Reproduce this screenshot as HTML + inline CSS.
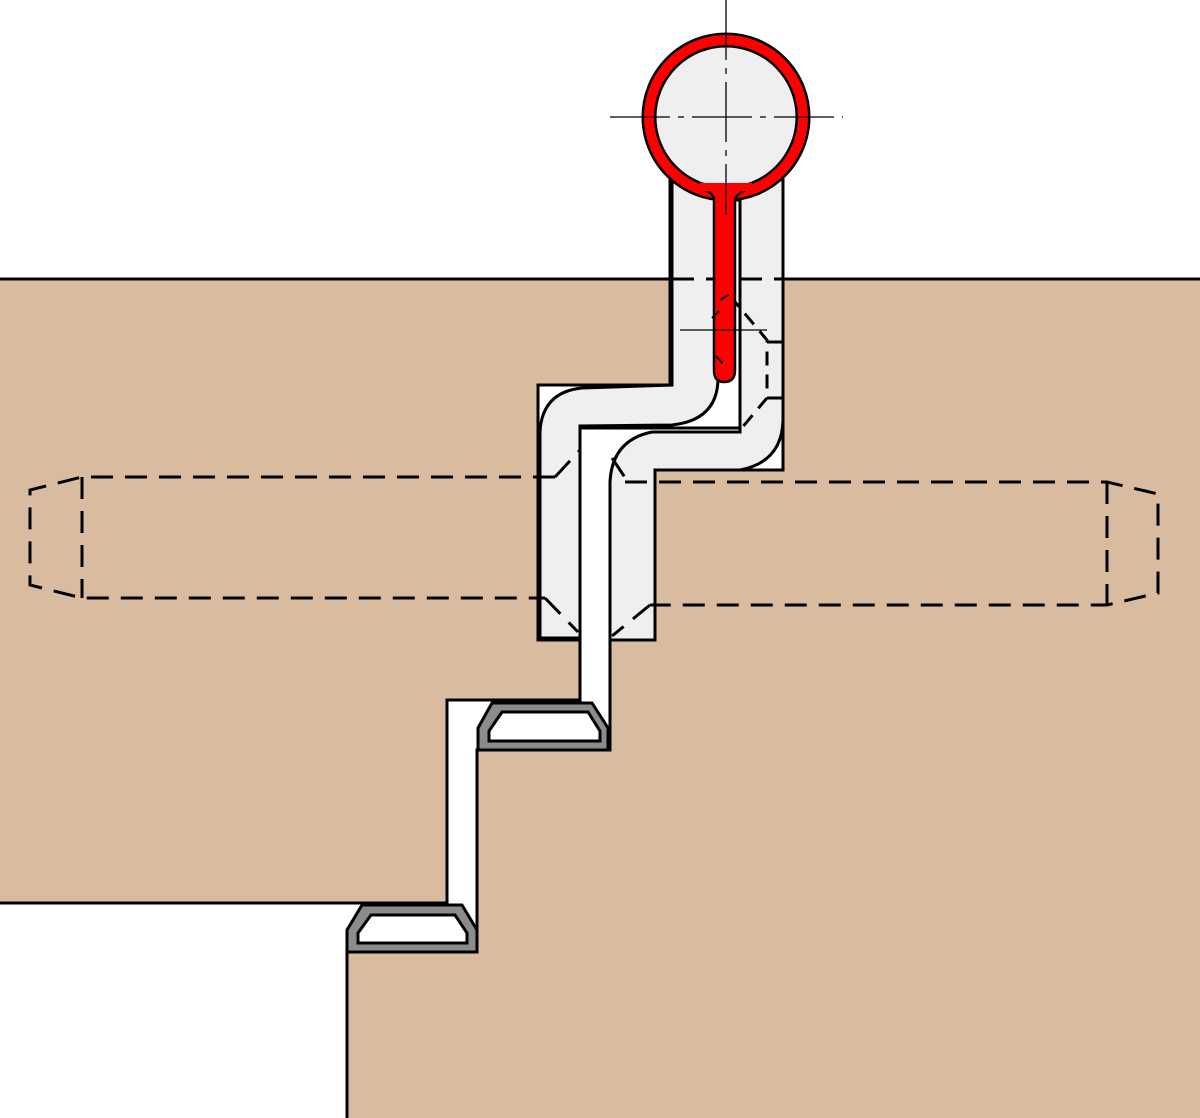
<!DOCTYPE html>
<html><head><style>html,body{margin:0;padding:0;background:#fff}svg{display:block}</style></head>
<body>
<svg width="1200" height="1118" viewBox="0 0 1200 1118" xmlns="http://www.w3.org/2000/svg">
<g stroke="#000" stroke-width="3" stroke-linejoin="miter" fill="#d9bc9f">
<polygon points="-5,279 670,279 670,385 538,385 538,640 580,640 580,700 447,700 447,903 -5,903"/>
<polygon points="783,279 1205,279 1205,1125 347,1125 347,952 477,952 477,750 610,750 610,640 655,640 655,470 783,470"/>
</g>
<g stroke="#000" stroke-width="3" fill="#efefef">
<path d="M670,175 L670,385 L538,385 L538,640 L580,640 L580,428 L740,428 L740,200 L720,200 L718,175 Z" fill="#fff"/>
<path d="M672,175 L672,385 L582,388 Q542,392 540,432 L540,638 L580,638 L580,426 L672,425 Q718,420 718,378 L718,190"/>
<path d="M740,195 L740,432 L652,432 Q612,440 610,482 L610,640 L655,640 L655,470 L740,470 Q782,462 783,420 L783,175"/>
</g>
<line x1="0" y1="279" x2="670" y2="279" stroke="#000" stroke-width="3"/>
<line x1="783" y1="279" x2="1200" y2="279" stroke="#000" stroke-width="3"/>
<g stroke="#000" stroke-width="3" fill="none" stroke-dasharray="22,12">
<line x1="672" y1="279" x2="783" y2="279"/>
<path d="M555,477 L82,477 L30,490 L30,585 L82,598 L545,598"/>
<line x1="82" y1="477" x2="82" y2="598"/>
<path d="M555,477 L580,450"/>
<path d="M545,598 L578,632"/>
<path d="M625,482 L1107,482 L1158,494 L1158,593 L1107,605 L650,605"/>
<line x1="1107" y1="482" x2="1107" y2="605"/>
<path d="M612,458 L628,482"/>
<path d="M650,605 L612,636"/>
<path d="M730,296 L767,340 L767,398 L740,430" stroke-dasharray="14,9"/>
<path d="M767,342 L783,342 M767,398 L783,398" stroke-dasharray="none"/>
</g>
<g stroke="#000" stroke-width="3">
<polygon points="478,750 478,728 492,703 592,703 608,728 608,750" fill="#8c8c8c"/>
<polygon points="489,741 489,731 502,712 588,712 600,731 600,741" fill="#fff"/>
<polygon points="347,952 347,930 362,905 462,905 477,930 477,952" fill="#8c8c8c"/>
<polygon points="358,943 358,933 371,915 455,915 467,933 467,943" fill="#fff"/>
</g>
<circle cx="726" cy="117" r="77" fill="#efefef" stroke="#000" stroke-width="15"/>
<circle cx="726" cy="117" r="77" fill="none" stroke="#f00" stroke-width="10"/>
<path d="M714,200 L714,370 Q714,382 724,382 Q735,382 735,370 L735,200 Q737,193 748,189 L702,189 Q714,193 714,200 Z" fill="#f00" stroke="#000" stroke-width="2.5"/>
<rect x="700" y="183" width="52" height="8" fill="#f00"/>
<g stroke="#000" stroke-width="2" fill="none" stroke-dasharray="10,7">
<path d="M720,300 L730,294 M712,318 L720,310 M716,356 L724,365"/>
</g>
<g stroke="#000" stroke-width="1.3" fill="none">
<line x1="726" y1="0" x2="726" y2="215" stroke-dasharray="60,8,6,8"/>
<line x1="610" y1="117" x2="843" y2="117" stroke-dasharray="60,8,6,8"/>
<line x1="680" y1="330" x2="767" y2="330"/>
</g>
</svg>
</body></html>
